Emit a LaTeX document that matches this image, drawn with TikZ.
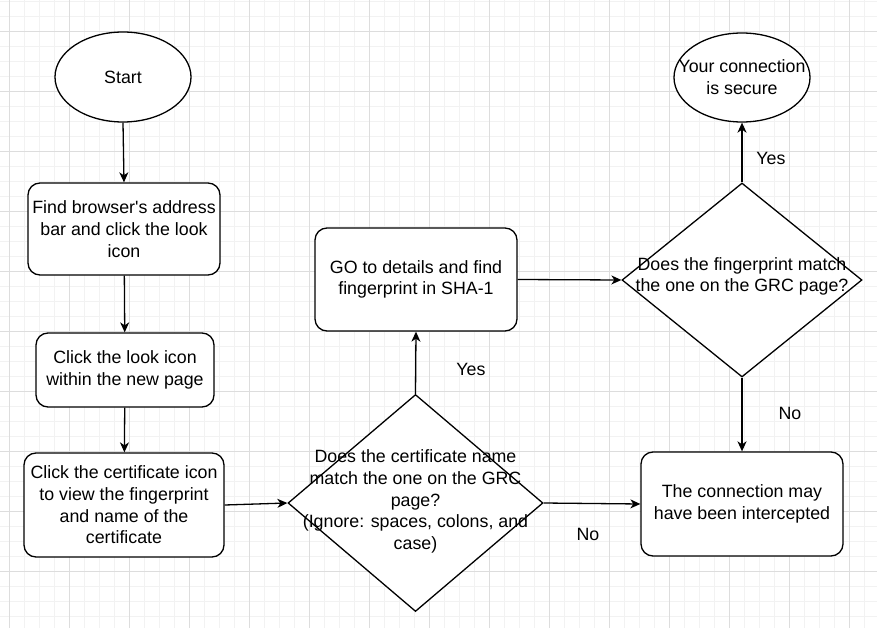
\documentclass[tikz,border=0pt]{standalone}
\usepackage{fontspec}
\setmainfont{Liberation Sans}
\usepackage{xcolor}
\definecolor{gridminor}{RGB}{242,242,242}
\definecolor{gridmajor}{RGB}{221,221,221}
\usetikzlibrary{shapes.geometric,arrows.meta}
\newcommand{\flowfont}{\fontsize{17.8}{21.7}\selectfont}

\tikzset{
	flowbox/.style={
		draw=black,           % black border
		line width=1.3pt,     % border thickness
		fill=white,           % white fill over the grid
		rectangle,            % shape
		rounded corners=12pt, % rounded box
		align=center,
		inner sep=0pt
	},
	terminal/.style={draw=black, line width=1.3pt, fill=white, ellipse, align=center, inner sep=0pt},
	decision/.style={draw=black, line width=1.3pt, fill=white, diamond, inner sep=0pt},
	flowarrow/.style={line width=1.3pt, -{Stealth[length=10pt,width=9pt,inset=3pt]}},
}

\begin{document}
\begin{tikzpicture}[x=1pt, y=-1pt, every node/.style={font=\flowfont}]
	\useasboundingbox (0,0) rectangle (877,628);
	% background grid
	\foreach \x in {9.3,24.3,...,877} \draw[gridminor, line width=0.8pt] (\x,0) -- (\x,628);
	\foreach \y in {1.7,16.7,...,628} \draw[gridminor, line width=0.8pt] (0,\y) -- (877,\y);
	\foreach \x in {9.3,69.3,...,877} \draw[gridmajor, line width=0.8pt] (\x,0) -- (\x,628);
	\foreach \y in {31.7,91.7,...,628} \draw[gridmajor, line width=0.8pt] (0,\y) -- (877,\y);

	% left column
	\node[terminal, minimum width=136pt, minimum height=90pt] (start) at (123,77) {Start};
	\node[flowbox, minimum width=192pt, minimum height=92pt] (findbar) at (124,229)
		{Find browser\textquotesingle s address\\bar and click the look\\icon};
	\node[flowbox, minimum width=178pt, minimum height=74pt] (lookicon) at (125,370)
		{Click the look icon\\within the new page};
	\node[flowbox, minimum width=200pt, minimum height=104pt] (certicon) at (124,505)
		{Click the certificate icon\\to view the fingerprint\\and name of the\\certificate};

	% middle column
	\node[decision, minimum width=255pt, minimum height=217pt] (certname) at (415.5,503) {};
	\node[align=center] (certnametxt) at (415.5,501.5)
		{Does the certificate name\\match the one on the GRC\\page?\\(Ignore: spaces, colons, and\\case)};
	\node[flowbox, minimum width=202pt, minimum height=103pt] (details) at (416,279.5)
		{GO to details and find\\fingerprint in SHA-1};

	% right column
	\node[decision, minimum width=240pt, minimum height=194pt] (fingermatch) at (742,280) {};
	\node[align=center] (fingermatchtxt) at (742,276.5)
		{Does the fingerprint match\\the one on the GRC page?};
	\node[terminal, minimum width=136pt, minimum height=89pt] (secure) at (742,77.5) {};
	\node[align=center] (securetxt) at (742,77)
		{Your connection\\is secure};
	\node[flowbox, minimum width=202pt, minimum height=104pt] (intercepted) at (742,504)
		{The connection may\\have been intercepted};

	% connectors
	\draw[flowarrow] (start.south) -- (findbar.north);
	\draw[flowarrow] (findbar) -- (lookicon);
	\draw[flowarrow] (lookicon) -- (certicon);
	\draw[flowarrow] (certicon.east) -- (certname.west);
	\draw[flowarrow] (certname.north) -- (details.south);
	\draw[flowarrow] (certname.east) -- (intercepted.west);
	\draw[flowarrow] (details.east) -- (fingermatch.west);
	\draw[flowarrow] (fingermatch.north) -- (secure.south);
	\draw[flowarrow] (fingermatch.south) -- (intercepted.north);

	% branch labels
	\node (yesdetails) at (471,369) {Yes};
	\node (nointercept) at (588,534) {No};
	\node (yessecure) at (771,158) {Yes};
	\node (nofinger) at (790,413) {No};
\end{tikzpicture}
\end{document}
